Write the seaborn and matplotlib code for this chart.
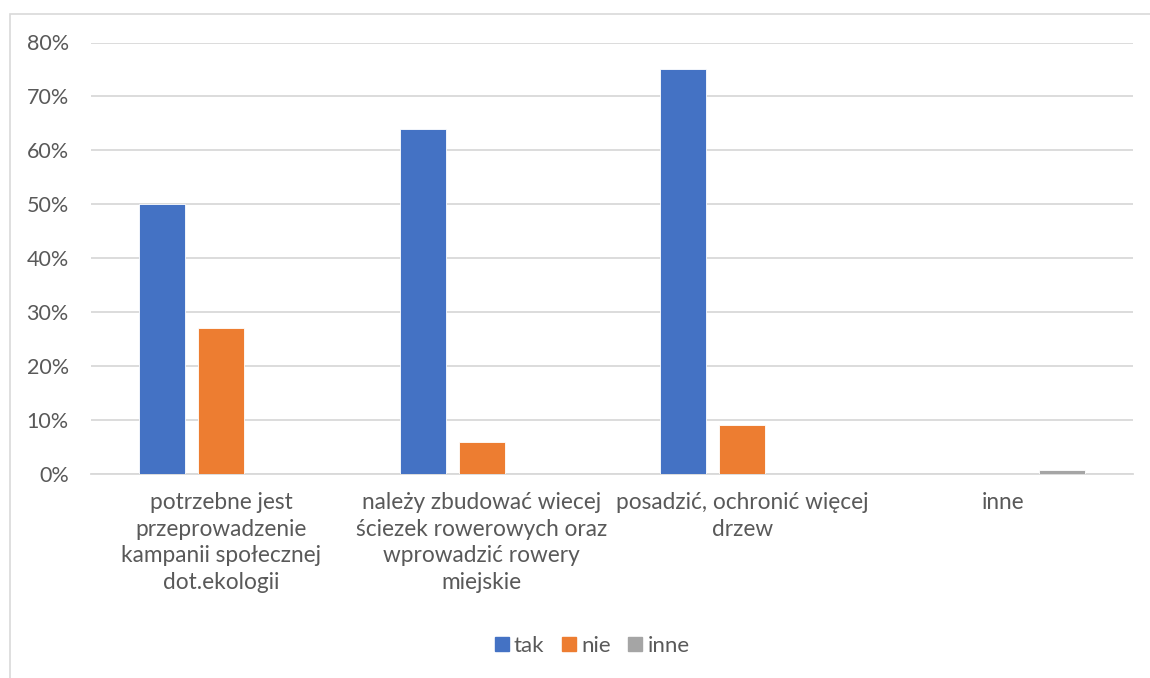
import pandas as pd
import matplotlib.pyplot as plt
import matplotlib.patches as mpatches
from matplotlib.lines import Line2D
from matplotlib.ticker import PercentFormatter, MultipleLocator
import seaborn as sns

kategorie = [
    "potrzebne jest\nprzeprowadzenie\nkampanii społecznej\ndot.ekologii",
    "należy zbudować wiecej\nściezek rowerowych oraz\nwprowadzić rowery\nmiejskie",
    "posadzić, ochronić więcej\ndrzew",
    "inne",
]
serie = ["tak", "nie", "inne"]
tak = [0.50, 0.64, 0.75, 0.0]
nie = [0.27, 0.06, 0.09, 0.0]
inne = [0.0, 0.0, 0.0, 0.007]
kolory = ["#4472C4", "#ED7D31", "#A5A5A5"]

df = pd.DataFrame({
    "kategoria": kategorie * 3,
    "seria": ["tak"] * 4 + ["nie"] * 4 + ["inne"] * 4,
    "wartosc": tak + nie + inne,
})

sns.set_style("white")
plt.rcParams["font.family"] = ["Lato", "DejaVu Sans"]

W, H = 1150, 678
fig = plt.figure(figsize=(W / 100, H / 100), dpi=100)
fig.set_facecolor("white")

# ramka wykresu (lewa i gorna krawedz widoczna)
fig.patches.append(mpatches.Rectangle((10 / W, -0.1), 1.2, 1 - 14 / H + 0.1,
                                      transform=fig.transFigure, fill=False,
                                      edgecolor="#D9D9D9", lw=1.2))

ax = fig.add_axes([91 / W, 1 - 474 / H, (1133 - 91) / W, (474 - 42.5) / H])

sns.barplot(data=df, x="kategoria", y="wartosc", hue="seria", order=kategorie,
            hue_order=serie, palette=kolory, saturation=1, width=0.68, gap=0.22,
            edgecolor="white", linewidth=0.6, legend=False, ax=ax, zorder=3)

ax.set_ylim(0, 0.8)
ax.yaxis.set_major_locator(MultipleLocator(0.1))
ax.yaxis.set_major_formatter(PercentFormatter(1.0, decimals=0))
ax.grid(axis="y", color="#D9D9D9", lw=1.3, zorder=0)
ax.set_axisbelow(True)
for s in ["top", "right", "left"]:
    ax.spines[s].set_visible(False)
ax.spines["bottom"].set_color("#D9D9D9")
ax.spines["bottom"].set_linewidth(1.3)
ax.set_xlabel("")
ax.set_ylabel("")
ax.tick_params(axis="y", length=0, pad=16, labelsize=15.5, labelcolor="#595959")
ax.tick_params(axis="x", length=0, pad=13, labelsize=16.3, labelcolor="#595959")
for t in ax.get_xticklabels():
    t.set_linespacing(1.33)

uchwyty = [Line2D([], [], marker="s", linestyle="none", markersize=10,
                  markerfacecolor=c, markeredgecolor=c) for c in kolory]
fig.legend(uchwyty, serie, loc="center", bbox_to_anchor=(590 / W, 1 - 646 / H),
           ncol=3, frameon=False, fontsize=16, labelcolor="#595959",
           handletextpad=0.05, columnspacing=0.6, handlelength=1.0)

fig.savefig("out.png", dpi=100, facecolor="white")
